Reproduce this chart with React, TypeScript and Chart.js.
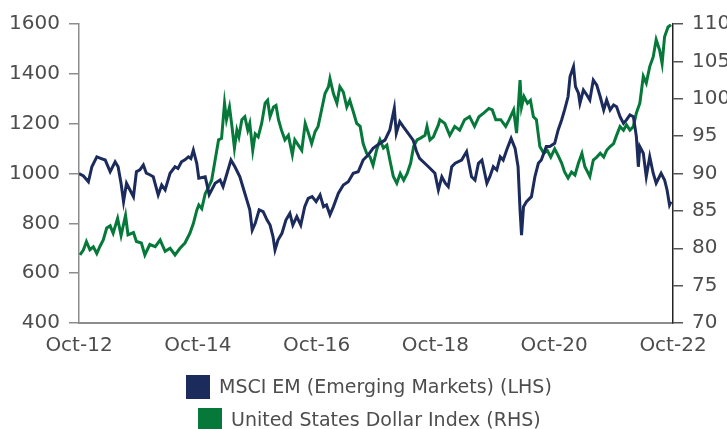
import React, { useEffect, useRef } from 'react';
import { Chart, registerables } from 'chart.js';

Chart.register(...registerables);

// Months since Oct-2012
const xTickLabels = ['Oct-12', 'Oct-14', 'Oct-16', 'Oct-18', 'Oct-20', 'Oct-22'];
const xTickMonths = [0, 24, 48, 72, 96, 120];

const seriesNames = ['MSCI EM (Emerging Markets) (LHS)', 'United States Dollar Index (RHS)'];
const seriesColors = ['#1b2b5b', '#06793a'];

const emMonths = [
  0, 0.9, 1.9, 2.6, 3.6, 4.5, 5.3, 6.3, 7.3, 7.9, 8.5, 9.0, 9.6, 10.3, 11.0, 11.6, 12.3, 13.0, 13.6, 14.3,
  15.0, 16.0, 16.7, 17.4, 18.4, 19.4, 20.0, 20.7, 21.4, 22.1, 22.6, 23.1, 23.8, 24.2, 25.5, 26.3, 27.5, 28.5, 29.1, 29.7,
  30.7, 31.5, 32.5, 33.1, 33.9, 34.5, 35.0, 35.6, 36.4, 37.2, 38.0, 38.6, 39.2, 39.6, 40.2, 41.0, 41.8, 42.6, 43.2, 44.0,
  44.8, 45.6, 46.3, 47.1, 47.9, 48.7, 49.4, 50.0, 50.7, 51.4, 52.4, 53.4, 54.4, 55.4, 56.4, 57.4, 58.4, 59.4, 60.8, 61.8,
  62.8, 63.7, 64.1, 64.8, 65.5, 66.5, 67.5, 68.2, 68.8, 69.9, 70.9, 71.9, 72.6, 73.3, 74.0, 74.6, 75.3, 76.0, 77.3, 78.3,
  79.3, 80.0, 80.7, 81.4, 82.4, 83.0, 83.7, 84.4, 85.1, 85.7, 86.4, 87.3, 88.1, 88.7, 89.1, 89.4, 89.8, 90.4, 91.4, 92.1,
  92.8, 93.4, 94.4, 95.1, 96.1, 96.8, 97.5, 98.1, 98.8, 99.2, 99.9, 100.3, 100.9, 101.2, 101.9, 102.6, 103.2, 103.9, 104.6, 105.3,
  106.0, 106.6, 107.3, 108.0, 108.6, 109.3, 110.0, 110.6, 111.3, 112.0, 112.6, 113.0, 113.3, 114.0, 114.6, 115.3, 116.0, 116.6, 117.6, 118.3,
  118.8, 119.3, 119.6,
];
const emValues = [
  1000, 990, 967, 1027, 1067, 1060, 1054, 1007, 1047, 1027, 960, 887, 961, 934, 907, 1007, 1015, 1034, 1001, 995,
  987, 914, 954, 934, 1001, 1027, 1020, 1047, 1055, 1067, 1060, 1094, 1040, 981, 987, 915, 961, 974, 947, 987,
  1054, 1027, 987, 947, 894, 854, 773, 800, 854, 847, 813, 793, 746, 693, 733, 760, 813, 840, 793, 827,
  793, 867, 900, 907, 887, 914, 867, 874, 834, 867, 921, 954, 967, 1001, 1007, 1054, 1074, 1101, 1121, 1134,
  1175, 1262, 1161, 1208, 1188, 1161, 1134, 1088, 1061, 1040, 1021, 1001, 934, 987, 961, 947, 1027, 1041, 1054, 1088,
  987, 974, 1041, 1054, 961, 987, 1027, 1014, 1067, 1054, 1094, 1141, 1101, 1027, 854, 753, 867, 887, 907, 987,
  1041, 1054, 1108, 1108, 1121, 1175, 1215, 1255, 1308, 1389, 1429, 1349, 1322, 1282, 1335, 1315, 1295, 1375, 1355, 1308,
  1255, 1295, 1255, 1275, 1268, 1228, 1201, 1215, 1235, 1228, 1148, 1027, 1108, 1081, 987, 1067, 1001, 961, 1001, 974,
  934, 874, 887,
];

const usdMonths = [
  0.2, 0.9, 1.5, 2.2, 2.9, 3.6, 4.2, 4.9, 5.6, 6.3, 6.9, 7.8, 8.5, 9.4, 9.9, 11.0, 11.6, 12.6, 13.3, 14.3,
  15.4, 16.4, 17.4, 18.4, 19.4, 20.4, 21.4, 22.4, 23.1, 23.8, 24.2, 24.8, 25.5, 26.2, 26.8, 27.5, 28.2, 28.8, 29.4, 29.8,
  30.4, 30.9, 31.4, 31.9, 32.3, 32.9, 33.5, 34.1, 34.5, 35.1, 35.6, 36.2, 36.9, 37.6, 38.1, 38.6, 39.3, 39.8, 40.3, 40.9,
  41.6, 42.3, 43.1, 43.6, 44.3, 45.0, 45.7, 46.4, 47.0, 47.7, 48.3, 49.0, 49.7, 50.4, 50.7, 51.4, 52.1, 52.7, 53.4, 54.1,
  54.7, 55.4, 56.1, 56.8, 57.4, 58.1, 58.8, 59.4, 60.1, 60.8, 61.5, 62.2, 62.8, 63.5, 64.2, 64.9, 65.6, 66.3, 67.0, 67.6,
  68.3, 68.9, 69.9, 70.3, 70.9, 71.6, 71.9, 72.6, 72.9, 73.9, 74.9, 75.9, 76.9, 77.9, 78.9, 79.9, 80.8, 81.8, 82.8, 83.5,
  84.2, 85.2, 86.2, 86.9, 87.8, 88.4, 89.1, 89.4, 89.9, 90.6, 91.2, 91.8, 92.4, 93.1, 93.9, 94.6, 95.3, 96.1, 96.8, 97.5,
  98.1, 98.8, 99.5, 100.2, 100.9, 101.6, 102.2, 102.9, 103.2, 103.9, 104.6, 105.3, 106.0, 106.6, 107.3, 108.0, 108.6, 109.3, 110.0, 110.6,
  111.3, 112.0, 112.6, 113.3, 114.0, 114.6, 115.3, 116.0, 116.6, 117.3, 117.8, 118.3, 119.0, 119.6,
];
const usdValues = [
  79.1, 79.8, 80.9, 79.8, 80.2, 79.3, 80.2, 81.1, 82.7, 83.0, 82.0, 84.0, 81.7, 84.4, 81.8, 82.1, 80.9, 80.7, 79.1, 80.5,
  80.2, 81.1, 79.6, 80.0, 79.1, 80.0, 80.7, 82.0, 83.3, 85.1, 85.8, 85.3, 87.3, 88.2, 89.1, 91.8, 94.5, 94.7, 99.4, 97.2,
  98.9, 96.3, 93.4, 95.8, 94.9, 97.2, 97.6, 95.8, 96.7, 93.1, 95.3, 94.9, 96.7, 99.4, 99.8, 97.6, 98.9, 99.1, 97.2, 95.8,
  94.5, 95.1, 92.5, 94.5, 93.8, 93.1, 96.7, 95.3, 94.0, 95.6, 96.3, 98.5, 100.7, 101.6, 102.7, 100.7, 99.4, 101.6, 100.9, 98.9,
  99.8, 98.3, 96.7, 96.3, 94.0, 92.7, 92.2, 91.1, 93.1, 94.5, 93.4, 93.8, 91.8, 89.6, 88.7, 90.0, 89.1, 90.0, 91.4, 93.6,
  94.5, 94.7, 95.1, 96.3, 94.5, 94.9, 95.4, 96.5, 97.2, 96.7, 95.1, 96.3, 95.8, 97.2, 97.6, 96.3, 97.6, 98.1, 98.7, 98.5,
  97.2, 97.2, 96.3, 97.2, 98.5, 95.4, 102.5, 98.9, 100.3, 99.4, 99.8, 97.6, 97.2, 93.6, 92.7, 93.1, 92.2, 93.3, 92.4, 91.4,
  90.2, 89.4, 90.2, 89.8, 91.4, 92.7, 90.9, 90.0, 89.6, 91.8, 92.2, 92.7, 92.2, 93.1, 93.6, 94.0, 95.1, 96.3, 95.8, 96.5,
  95.8, 96.3, 98.1, 99.4, 103.0, 102.1, 104.3, 105.6, 107.9, 106.5, 104.7, 108.3, 109.6, 109.9,
];

const FONT = '"DejaVu Sans", sans-serif';
const TEXT_COLOR = '#4d4d4d';

export default function App() {
  const canvasRef = useRef<HTMLCanvasElement | null>(null);

  useEffect(() => {
    document.body.style.margin = '0';
    const canvas = canvasRef.current;
    if (!canvas) return;

    const legendPlugin = {
      id: 'twoRowLegend',
      afterDraw(chart: any) {
        const ctx = chart.ctx as CanvasRenderingContext2D;
        ctx.save();
        ctx.font = `19px ${FONT}`;
        ctx.textBaseline = 'middle';
        ctx.textAlign = 'left';
        const centerX = chart.width / 2 + 5.5;
        const rowY = [387, 420];
        chart.data.datasets.forEach((ds: any, i: number) => {
          const tw = ctx.measureText(ds.label).width;
          const total = 24 + 9 + tw;
          const x0 = Math.round(centerX - total / 2);
          ctx.fillStyle = ds.borderColor;
          ctx.fillRect(x0, rowY[i] - 12, 24, 24);
          ctx.fillStyle = TEXT_COLOR;
          ctx.fillText(ds.label, x0 + 33, rowY[i] + 1);
        });
        ctx.restore();
      },
    };

    const chart = new Chart(canvas, {
      type: 'line',
      data: {
        datasets: [
          {
            label: seriesNames[0],
            data: emMonths.map((m, i) => ({ x: m, y: emValues[i] })),
            borderColor: seriesColors[0],
            backgroundColor: seriesColors[0],
            borderWidth: 3,
            pointRadius: 0,
            tension: 0,
            yAxisID: 'y',
          },
          {
            label: seriesNames[1],
            data: usdMonths.map((m, i) => ({ x: m, y: usdValues[i] })),
            borderColor: seriesColors[1],
            backgroundColor: seriesColors[1],
            borderWidth: 3,
            pointRadius: 0,
            tension: 0,
            yAxisID: 'y1',
          },
        ],
      },
      options: {
        animation: false,
        responsive: false,
        maintainAspectRatio: false,
        devicePixelRatio: 1,
        layout: { padding: { top: 24, left: 0, right: 0, bottom: 0 } },
        plugins: {
          legend: { display: false },
          tooltip: { enabled: false },
        },
        scales: {
          x: {
            type: 'linear',
            min: 0,
            max: 120,
            afterBuildTicks: (scale: any) => {
              scale.ticks = xTickMonths.map((v) => ({ value: v }));
            },
            afterFit: (scale: any) => {
              scale.height = 106;
            },
            ticks: {
              autoSkip: false,
              maxRotation: 0,
              padding: 11,
              color: TEXT_COLOR,
              font: { family: FONT, size: 20 },
              callback: (_v: any, i: number) => xTickLabels[i],
            },
            grid: { display: false, drawTicks: false },
            border: { display: true, color: '#8c8c8c', width: 2 },
          },
          y: {
            type: 'linear',
            position: 'left',
            min: 400,
            max: 1600,
            afterFit: (scale: any) => {
              scale.width = 79;
            },
            ticks: {
              stepSize: 200,
              padding: 9,
              color: TEXT_COLOR,
              font: { family: FONT, size: 20 },
              callback: (v: any) => String(v),
            },
            grid: { drawOnChartArea: false, tickLength: 10, color: '#8c8c8c', lineWidth: 1.5 },
            border: { display: true, color: '#8c8c8c', width: 1.5 },
          },
          y1: {
            type: 'linear',
            position: 'right',
            min: 70,
            max: 110,
            afterFit: (scale: any) => {
              scale.width = 54;
            },
            ticks: {
              stepSize: 5,
              padding: 9,
              color: TEXT_COLOR,
              font: { family: FONT, size: 20 },
              callback: (v: any) => String(v),
            },
            grid: { drawOnChartArea: false, tickLength: 10, color: '#555555', lineWidth: 1.5 },
            border: { display: true, color: '#222222', width: 1.5 },
          },
        },
      },
      plugins: [legendPlugin],
    });

    return () => {
      chart.destroy();
    };
  }, []);

  return (
    <div style={{ width: 727, height: 429 }}>
      <canvas ref={canvasRef} width={727} height={429} style={{ display: 'block' }} />
    </div>
  );
}
